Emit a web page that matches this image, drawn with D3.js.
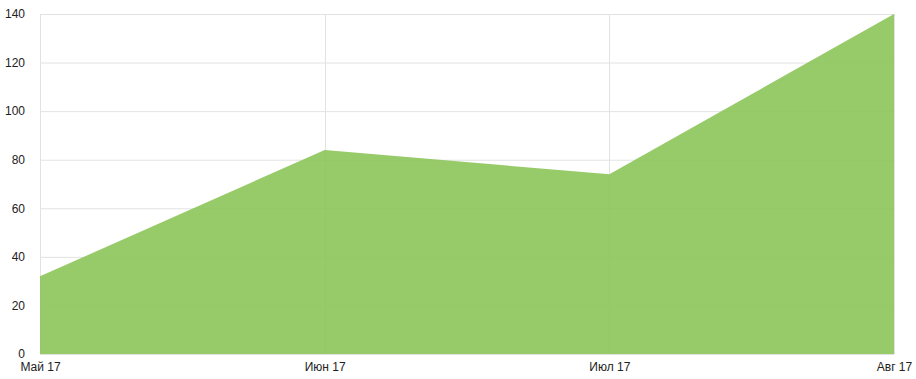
<!DOCTYPE html>
<html><head><meta charset="utf-8">
<script src="https://cdn.jsdelivr.net/npm/d3@7"></script>
<style>body{margin:0;background:#fff}svg{display:block}text{font-family:"Liberation Sans",Arial,sans-serif;font-size:12px;fill:#222}</style>
</head><body><svg id="c" width="916" height="379"></svg>
<script>
const categories = ["Май 17","Июн 17","Июл 17","Авг 17"];
const values = [32,84,74,140];
const yTicks = [0,20,40,60,80,100,120,140];

const svg = d3.select("#c");
const m = {l:40, r:22, t:14, b:25};
const W = 916, H = 379;
const x = d3.scalePoint().domain(categories).range([m.l, W-m.r]);
const y = d3.scaleLinear().domain([0,140]).range([H-m.b, m.t]);

// grid
svg.append("g").selectAll("line").data(yTicks).join("line")
  .attr("x1", m.l).attr("x2", W-m.r).attr("y1", d=>y(d)+0.5).attr("y2", d=>y(d)+0.5)
  .attr("stroke","#e2e2e2");
svg.append("g").selectAll("line").data(categories).join("line")
  .attr("x1", d=>Math.round(x(d))+0.5).attr("x2", d=>Math.round(x(d))+0.5).attr("y1", m.t).attr("y2", H-m.b)
  .attr("stroke","#e2e2e2");

const area = d3.area().x((d,i)=>x(categories[i])).y0(y(0)).y1(d=>y(d));
svg.append("path").datum(values).attr("d", area).attr("fill","#8cc458").attr("fill-opacity",0.9);

// axes
const ya = d3.axisLeft(y).tickValues(yTicks).tickSize(0).tickPadding(15);
const gy = svg.append("g").attr("transform",`translate(${m.l},0)`).call(ya);
gy.select(".domain").remove();
gy.selectAll("text").attr("fill","#222").style("font-size","12px").style("font-family","'Liberation Sans',Arial,sans-serif");

const xa = d3.axisBottom(x).tickSize(0).tickPadding(8);
const gx = svg.append("g").attr("transform",`translate(0,${H-m.b})`).call(xa);
gx.select(".domain").remove();
gx.selectAll("text").attr("fill","#222").style("font-size","12px").style("font-family","'Liberation Sans',Arial,sans-serif");
</script></body></html>
